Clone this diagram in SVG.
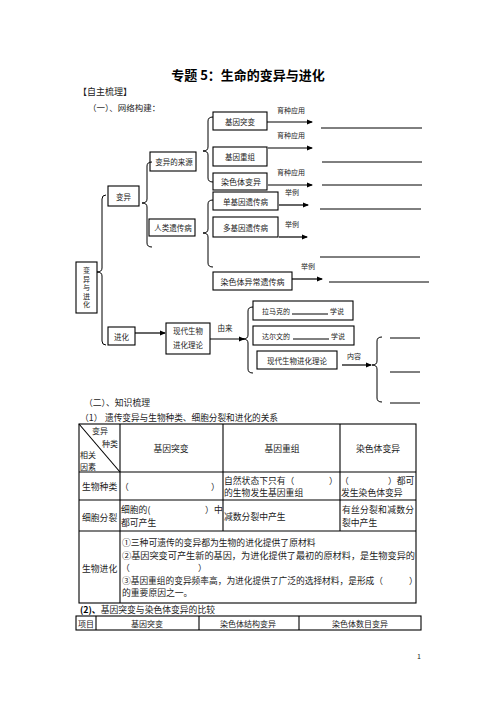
<svg xmlns="http://www.w3.org/2000/svg" width="496" height="702" viewBox="0 0 496 702">
<style>
text{font-family:"Noto Sans CJK SC","Noto Sans",sans-serif;fill:#222;dominant-baseline:central}
.bx{fill:none;stroke:#000;stroke-width:1.1}
.ln{fill:none;stroke:#000;stroke-width:1}
.ar{fill:none;stroke:#000;stroke-width:1.2;marker-end:url(#ah)}
.br{fill:none;stroke:#000;stroke-width:1}
.s7{font-size:7px}
.s75{font-size:7.5px}
.s8{font-size:8px}
.s9{font-size:8.8px}
.m{text-anchor:middle}
.tb{fill:none;stroke:#000;stroke-width:1.1}
</style>
<defs>
<marker id="ah" markerWidth="6" markerHeight="6" refX="5" refY="3" orient="auto" markerUnits="userSpaceOnUse"><path d="M0,0.6 L6,3 L0,5.4 z" fill="#000"/></marker>
</defs>
<rect width="496" height="702" fill="#fff"/>

<g id="header">
<text x="248" y="74" class="m" style="font-size:13px;font-weight:bold;fill:#000">专题 5：生命的变异与进化</text>
<text x="78" y="91" style="font-size:9px">【自主梳理】</text>
<text x="88" y="107" style="font-size:8.5px">（一）、网络构建：</text>
</g>

<g id="connectors">
<path class="br" d="M106,195 Q102,195 102,199 L102,268 Q102,272 97,272 Q102,272 102,276 L102,341 Q102,345 106,345"/>
<path class="br" d="M152,162 Q147,162 147,166 L147,199 Q147,203 142,203 Q147,203 147,207 L147,243 Q147,247 152,247"/>
<path class="br" d="M213,117 Q208,117 208,121 L208,147 Q208,151 203,151 Q208,151 208,155 L208,178 Q208,182 213,182"/>
<path class="br" d="M213,200 Q208,200 208,204 L208,229 Q208,233 203,233 Q208,233 208,237 L208,263 Q208,267 213,267"/>
<path class="br" d="M253,307 Q248,307 248,311 L248,335 Q248,339 243,339 Q248,339 248,343 L248,369 Q248,373 253,373"/>
<path class="br" d="M382,337 Q377,337 377,341 L377,361 Q377,365 372,365 Q377,365 377,369 L377,398 Q377,402 382,402"/>
<line class="ar" x1="267" y1="122" x2="312" y2="122"/>
<line class="ar" x1="268" y1="148" x2="312" y2="148"/>
<line class="ar" x1="268" y1="185" x2="312" y2="185"/>
<line class="ar" x1="279" y1="205" x2="308" y2="205"/>
<line class="ar" x1="279" y1="237" x2="307" y2="237"/>
<line class="ar" x1="292" y1="279" x2="322" y2="279"/>
<line class="ar" x1="135" y1="333" x2="165" y2="333"/>
<line class="ar" x1="210" y1="339" x2="244" y2="339"/>
<line class="ar" x1="342" y1="365" x2="371" y2="365"/>
<line class="ln" x1="321" y1="128" x2="422" y2="128"/>
<line class="ln" x1="322" y1="162" x2="422" y2="162"/>
<line class="ln" x1="322" y1="185" x2="422" y2="185"/>
<line class="ln" x1="320" y1="209" x2="421" y2="209"/>
<line class="ln" x1="320" y1="257" x2="420" y2="257"/>
<line class="ln" x1="329" y1="282" x2="429" y2="282"/>
<line class="ln" x1="390" y1="338" x2="420" y2="338"/>
<line class="ln" x1="390" y1="372" x2="420" y2="372"/>
<line class="ln" x1="390" y1="403" x2="420" y2="403"/>
<text x="291" y="110" class="s7 m">育种应用</text>
<text x="291" y="135" class="s7 m">育种应用</text>
<text x="291" y="172" class="s7 m">育种应用</text>
<text x="292" y="192" class="s7 m">举例</text>
<text x="292" y="224" class="s7 m">举例</text>
<text x="308" y="266" class="s7 m">举例</text>
<text x="225" y="327" class="s75 m">由来</text>
<text x="354" y="356" class="s7 m">内容</text>
</g>

<g id="n-root"><rect class="bx" x="76" y="262" width="21" height="51"/>
<text class="s7 m"><tspan x="86.5" y="270">变</tspan><tspan x="86.5" y="278.5">异</tspan><tspan x="86.5" y="287">与</tspan><tspan x="86.5" y="295.5">进</tspan><tspan x="86.5" y="304">化</tspan></text></g>
<g id="n-bianyi"><rect class="bx" x="108" y="186" width="31" height="20"/><text x="123.5" y="196" class="s75 m">变异</text></g>
<g id="n-laiyuan"><rect class="bx" x="150" y="152" width="46" height="19"/><text x="174" y="161.5" class="s75 m">变异的来源</text></g>
<g id="n-renlei"><rect class="bx" x="149" y="219" width="46" height="17"/><text x="173" y="227.5" class="s75 m">人类遗传病</text></g>
<g id="n-tubian"><rect class="bx" x="213" y="112" width="54" height="18"/><text x="240" y="121" class="s75 m">基因突变</text></g>
<g id="n-chongzu"><rect class="bx" x="213" y="147" width="54" height="19"/><text x="240" y="156.5" class="s75 m">基因重组</text></g>
<g id="n-ranse"><rect class="bx" x="213" y="173" width="54" height="17"/><text x="241" y="181.5" class="s8 m">染色体变异</text></g>
<g id="n-dan"><rect class="bx" x="213" y="192" width="65" height="18"/><text x="245.5" y="201" class="s75 m">单基因遗传病</text></g>
<g id="n-duo"><rect class="bx" x="213" y="217" width="65" height="20"/><text x="245.5" y="227" class="s75 m">多基因遗传病</text></g>
<g id="n-yichang"><rect class="bx" x="213" y="272" width="79" height="18"/><text x="252.5" y="281" class="s8 m">染色体异常遗传病</text></g>
<g id="n-jinhua"><rect class="bx" x="108" y="327" width="27" height="18"/><text x="121.5" y="336" class="s75 m">进化</text></g>
<g id="n-xiandai"><rect class="bx" x="166" y="323" width="44" height="31"/><text x="188" y="330" class="s75 m">现代生物</text><text x="188" y="344" class="s75 m">进化理论</text></g>
<g id="n-lamark"><rect class="bx" x="253" y="301" width="100" height="19"/><text x="262" y="310.5" class="s7">拉马克的</text><line class="ln" x1="292" y1="314" x2="328" y2="314"/><text x="330" y="310.5" class="s7">学说</text></g>
<g id="n-darwin"><rect class="bx" x="253" y="326" width="101" height="19"/><text x="262" y="335.5" class="s7">达尔文的</text><line class="ln" x1="293" y1="339" x2="329" y2="339"/><text x="331" y="335.5" class="s7">学说</text></g>
<g id="n-xiandai2"><rect class="bx" x="257" y="351" width="80" height="18"/><text x="297" y="360" class="s75 m">现代生物进化理论</text></g>

<g id="table1">
<text x="84" y="402" class="s9">（二）、知识梳理</text>
<text x="80" y="417" class="s9">（1）</text>
<text x="105" y="417" class="s9" textLength="173" lengthAdjust="spacingAndGlyphs">遗传变异与生物种类、细胞分裂和进化的关系</text>
<rect class="tb" x="79" y="424" width="337" height="179"/>
<line class="tb" x1="120" y1="424" x2="120" y2="603"/>
<line class="tb" x1="223" y1="424" x2="223" y2="531"/>
<line class="tb" x1="340" y1="424" x2="340" y2="531"/>
<line class="tb" x1="79" y1="472" x2="416" y2="472"/>
<line class="tb" x1="79" y1="500" x2="416" y2="500"/>
<line class="tb" x1="79" y1="531" x2="416" y2="531"/>
<line class="tb" x1="79" y1="424" x2="120" y2="472"/>
<text x="92" y="430" class="s8">变异</text>
<text x="102" y="443" class="s8">种类</text>
<text x="80" y="454" class="s8">相关</text>
<text x="80" y="466" class="s8">因素</text>
<text x="171" y="448" class="s9 m">基因突变</text>
<text x="282" y="448" class="s9 m">基因重组</text>
<text x="378" y="448" class="s9 m">染色体变异</text>
<text x="82" y="486" class="s9">生物种类</text>
<text x="120" y="486" class="s9">（</text>
<text x="211" y="486" class="s9">）</text>
<text x="224" y="480" class="s9">自然状态下只有（</text>
<text x="329" y="480" class="s9">）</text>
<text x="224" y="492" class="s9">的生物发生基因重组</text>
<text x="340" y="480" class="s9">（</text>
<text x="388" y="480" class="s9">）都可</text>
<text x="341" y="492" class="s9">发生染色体变异</text>
<text x="82" y="517" class="s9">细胞分裂</text>
<text x="121" y="509" class="s9">细胞的(</text>
<text x="205" y="509" class="s9">）</text>
<text x="214" y="509" class="s9">中</text>
<text x="121" y="522" class="s9">都可产生</text>
<text x="224" y="516" class="s9">减数分裂中产生</text>
<text x="342" y="509" class="s9" textLength="72" lengthAdjust="spacing">有丝分裂和减数分</text>
<text x="342" y="522" class="s9">裂中产生</text>
<text x="82" y="568" class="s9">生物进化</text>
<text x="122" y="542" class="s9">①三种可遗传的变异都为生物的进化提供了原材料</text>
<text x="122" y="555" class="s9" textLength="293" lengthAdjust="spacingAndGlyphs">②基因突变可产生新的基因，为进化提供了最初的原材料，是生物变异的</text>
<text x="121" y="567" class="s9">（</text>
<text x="198" y="567" class="s9">）</text>
<text x="122" y="580" class="s9" textLength="261" lengthAdjust="spacingAndGlyphs">③基因重组的变异频率高，为进化提供了广泛的选择材料，是形成（</text>
<text x="409" y="580" class="s9">）</text>
<text x="122" y="592" class="s9">的重要原因之一。</text>
</g>

<g id="table2">
<text x="80" y="609" class="s9"><tspan style="font-weight:bold;fill:#000">(2)、</tspan>基因突变与染色体变异的比较</text>
<rect class="tb" x="76" y="616" width="345" height="14"/>
<line class="tb" x1="96" y1="616" x2="96" y2="630"/>
<line class="tb" x1="199" y1="616" x2="199" y2="630"/>
<line class="tb" x1="299" y1="616" x2="299" y2="630"/>
<text x="86" y="623" class="s8 m">项目</text>
<text x="147" y="623" class="s8 m">基因突变</text>
<text x="248" y="623" class="s8 m">染色体结构变异</text>
<text x="360" y="623" class="s8 m">染色体数目变异</text>
<text x="419" y="656" class="s7 m">1</text>
</g>
</svg>
